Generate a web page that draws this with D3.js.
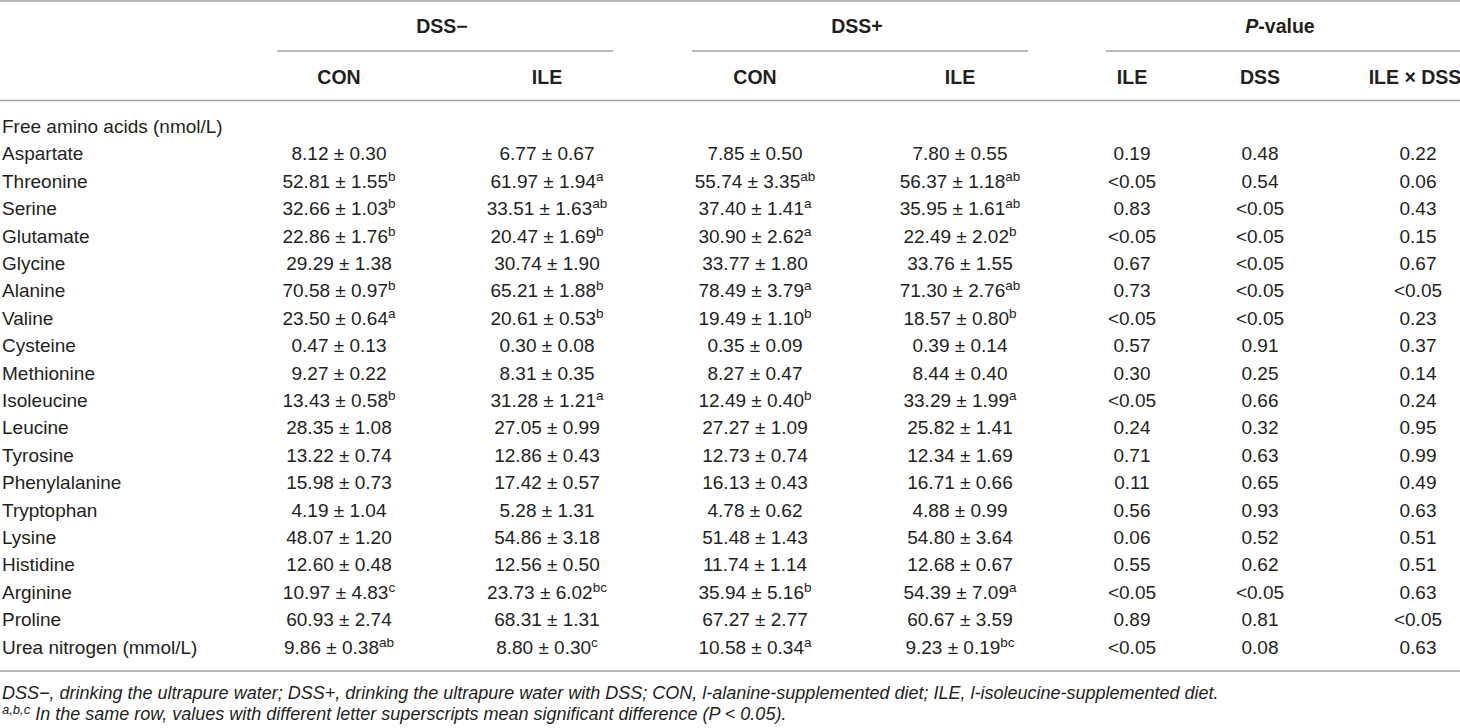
<!DOCTYPE html>
<html>
<head>
<meta charset="utf-8">
<script src="https://cdn.jsdelivr.net/npm/d3@7"></script>
<style>
  html, body { margin: 0; padding: 0; background: #fff; }
  svg text { font-family: "Liberation Sans", Arial, sans-serif; fill: #231f20; }
</style>
</head>
<body>
<svg id="table"></svg>
<script>

// row labels
var rows = ["Aspartate","Threonine","Serine","Glutamate","Glycine","Alanine","Valine",
  "Cysteine","Methionine","Isoleucine","Leucine","Tyrosine","Phenylalanine","Tryptophan",
  "Lysine","Histidine","Arginine","Proline","Urea nitrogen (mmol/L)"];

// DSS- / CON
var negConMean = [8.12,52.81,32.66,22.86,29.29,70.58,23.50,0.47,9.27,13.43,28.35,13.22,15.98,4.19,48.07,12.60,10.97,60.93,9.86];
var negConSem  = [0.30,1.55,1.03,1.76,1.38,0.97,0.64,0.13,0.22,0.58,1.08,0.74,0.73,1.04,1.20,0.48,4.83,2.74,0.38];
var negConSig  = ["","b","b","b","","b","a","","","b","","","","","","","c","","ab"];
// DSS- / ILE
var negIleMean = [6.77,61.97,33.51,20.47,30.74,65.21,20.61,0.30,8.31,31.28,27.05,12.86,17.42,5.28,54.86,12.56,23.73,68.31,8.80];
var negIleSem  = [0.67,1.94,1.63,1.69,1.90,1.88,0.53,0.08,0.35,1.21,0.99,0.43,0.57,1.31,3.18,0.50,6.02,1.31,0.30];
var negIleSig  = ["","a","ab","b","","b","b","","","a","","","","","","","bc","","c"];
// DSS+ / CON
var posConMean = [7.85,55.74,37.40,30.90,33.77,78.49,19.49,0.35,8.27,12.49,27.27,12.73,16.13,4.78,51.48,11.74,35.94,67.27,10.58];
var posConSem  = [0.50,3.35,1.41,2.62,1.80,3.79,1.10,0.09,0.47,0.40,1.09,0.74,0.43,0.62,1.43,1.14,5.16,2.77,0.34];
var posConSig  = ["","ab","a","a","","a","b","","","b","","","","","","","b","","a"];
// DSS+ / ILE
var posIleMean = [7.80,56.37,35.95,22.49,33.76,71.30,18.57,0.39,8.44,33.29,25.82,12.34,16.71,4.88,54.80,12.68,54.39,60.67,9.23];
var posIleSem  = [0.55,1.18,1.61,2.02,1.55,2.76,0.80,0.14,0.40,1.99,1.41,1.69,0.66,0.99,3.64,0.67,7.09,3.59,0.19];
var posIleSig  = ["","ab","ab","b","","ab","b","","","a","","","","","","","a","","bc"];
// P-values
var pIle = ["0.19","<0.05","0.83","<0.05","0.67","0.73","<0.05","0.57","0.30","<0.05","0.24","0.71","0.11","0.56","0.06","0.55","<0.05","0.89","<0.05"];
var pDss = ["0.48","0.54","<0.05","<0.05","<0.05","<0.05","<0.05","0.91","0.25","0.66","0.32","0.63","0.65","0.93","0.52","0.62","<0.05","0.81","0.08"];
var pInt = ["0.22","0.06","0.43","0.15","0.67","<0.05","0.23","0.37","0.14","0.24","0.95","0.99","0.49","0.63","0.51","0.51","0.63","<0.05","0.63"];

var sectionLabel = "Free amino acids (nmol/L)";
var columns = ["negCon","negIle","posCon","posIle","pIle","pDss","pInt"];
var columnLabels = ["CON","ILE","CON","ILE","ILE","DSS","ILE × DSS"];
var groups = [
  {label: "DSS−", cols: ["negCon","negIle"]},
  {label: "DSS+", cols: ["posCon","posIle"]},
  {label: "P-value", cols: ["pIle","pDss","pInt"]}
];
var notes = [
  "DSS−, drinking the ultrapure water; DSS+, drinking the ultrapure water with DSS; CON, l-alanine-supplemented diet; ILE, l-isoleucine-supplemented diet.",
  " In the same row, values with different letter superscripts mean significant difference (P < 0.05)."
];

var width = 1460, height = 728;
var fmt = d3.format(".2f");

var svg = d3.select("#table")
    .attr("width", width)
    .attr("height", height);

// column centres and spans of the group rules
var x = d3.scaleOrdinal()
    .domain(columns)
    .range([339, 547, 755, 960, 1132, 1260, 1415]);
var groupSpan = {"DSS−": [277, 613], "DSS+": [692, 1028], "P-value": [1106, 1460]};

var y = d3.scalePoint()
    .domain([sectionLabel].concat(rows))
    .range([126, 646.6]);

var rule = "#a3a3a3";
function hline(x1, x2, yy) {
  svg.append("line")
    .attr("x1", x1).attr("x2", x2)
    .attr("y1", yy).attr("y2", yy)
    .attr("stroke", rule)
    .attr("stroke-width", 1.6);
}

hline(0, width, 1);
hline(0, width, 100.5);
hline(0, width, 671);

// group headers
groups.forEach(function(g) {
  var s = groupSpan[g.label];
  hline(s[0], s[1], 51);
  var t = svg.append("text")
      .attr("x", (s[0] + s[1]) / 2 - 3)
      .attr("y", 33)
      .attr("text-anchor", "middle")
      .style("font-size", "19.5px")
      .style("font-weight", "bold");
  if (g.label === "P-value") {
    t.append("tspan").style("font-style", "italic").text("P");
    t.append("tspan").text("-value");
  } else {
    t.text(g.label);
  }
});

// column headers
svg.selectAll("text.colhead")
    .data(columns)
  .enter().append("text")
    .attr("class", "colhead")
    .attr("x", function(d) { return x(d); })
    .attr("y", 84)
    .attr("text-anchor", "middle")
    .style("font-size", "19.5px")
    .style("font-weight", "bold")
    .text(function(d, i) { return columnLabels[i]; });

// body
svg.append("text")
    .attr("x", 2)
    .attr("y", y(sectionLabel) + 7)
    .style("font-size", "19px")
    .text(sectionLabel);

svg.selectAll("text.rowlab")
    .data(rows)
  .enter().append("text")
    .attr("class", "rowlab")
    .attr("x", 2)
    .attr("y", function(d) { return y(d) + 7; })
    .style("font-size", "19px")
    .text(function(d) { return d; });

var meanCols = [
  {key: "negCon", mean: negConMean, sem: negConSem, sig: negConSig},
  {key: "negIle", mean: negIleMean, sem: negIleSem, sig: negIleSig},
  {key: "posCon", mean: posConMean, sem: posConSem, sig: posConSig},
  {key: "posIle", mean: posIleMean, sem: posIleSem, sig: posIleSig}
];

meanCols.forEach(function(c) {
  var cell = svg.selectAll("text.c-" + c.key)
      .data(rows)
    .enter().append("text")
      .attr("class", "c-" + c.key)
      .attr("x", x(c.key))
      .attr("y", function(d) { return y(d) + 7; })
      .attr("text-anchor", "middle")
      .style("font-size", "19px");
  cell.append("tspan")
      .text(function(d, i) { return fmt(c.mean[i]) + " ± " + fmt(c.sem[i]); });
  cell.append("tspan")
      .attr("dy", -7)
      .style("font-size", "13.5px")
      .text(function(d, i) { return c.sig[i]; });
});

[{key: "pIle", vals: pIle}, {key: "pDss", vals: pDss}, {key: "pInt", vals: pInt}].forEach(function(c) {
  svg.selectAll("text.p-" + c.key)
      .data(rows)
    .enter().append("text")
      .attr("class", "p-" + c.key)
      .attr("x", x(c.key) + (c.key === "pInt" ? 3 : 0))
      .attr("y", function(d) { return y(d) + 7; })
      .attr("text-anchor", "middle")
      .style("font-size", "19px")
      .text(function(d, i) { return c.vals[i]; });
});

// footnotes
svg.append("text")
    .attr("x", 2)
    .attr("y", 698.5)
    .style("font-size", "18px")
    .style("font-style", "italic")
    .text(notes[0]);

var n2 = svg.append("text")
    .attr("x", 2)
    .attr("y", 719.5)
    .style("font-size", "18px")
    .style("font-style", "italic");
n2.append("tspan").attr("dy", -6).style("font-size", "13px").text("a,b,c");
n2.append("tspan").attr("dy", 6).text(notes[1]);

</script>
</body>
</html>
